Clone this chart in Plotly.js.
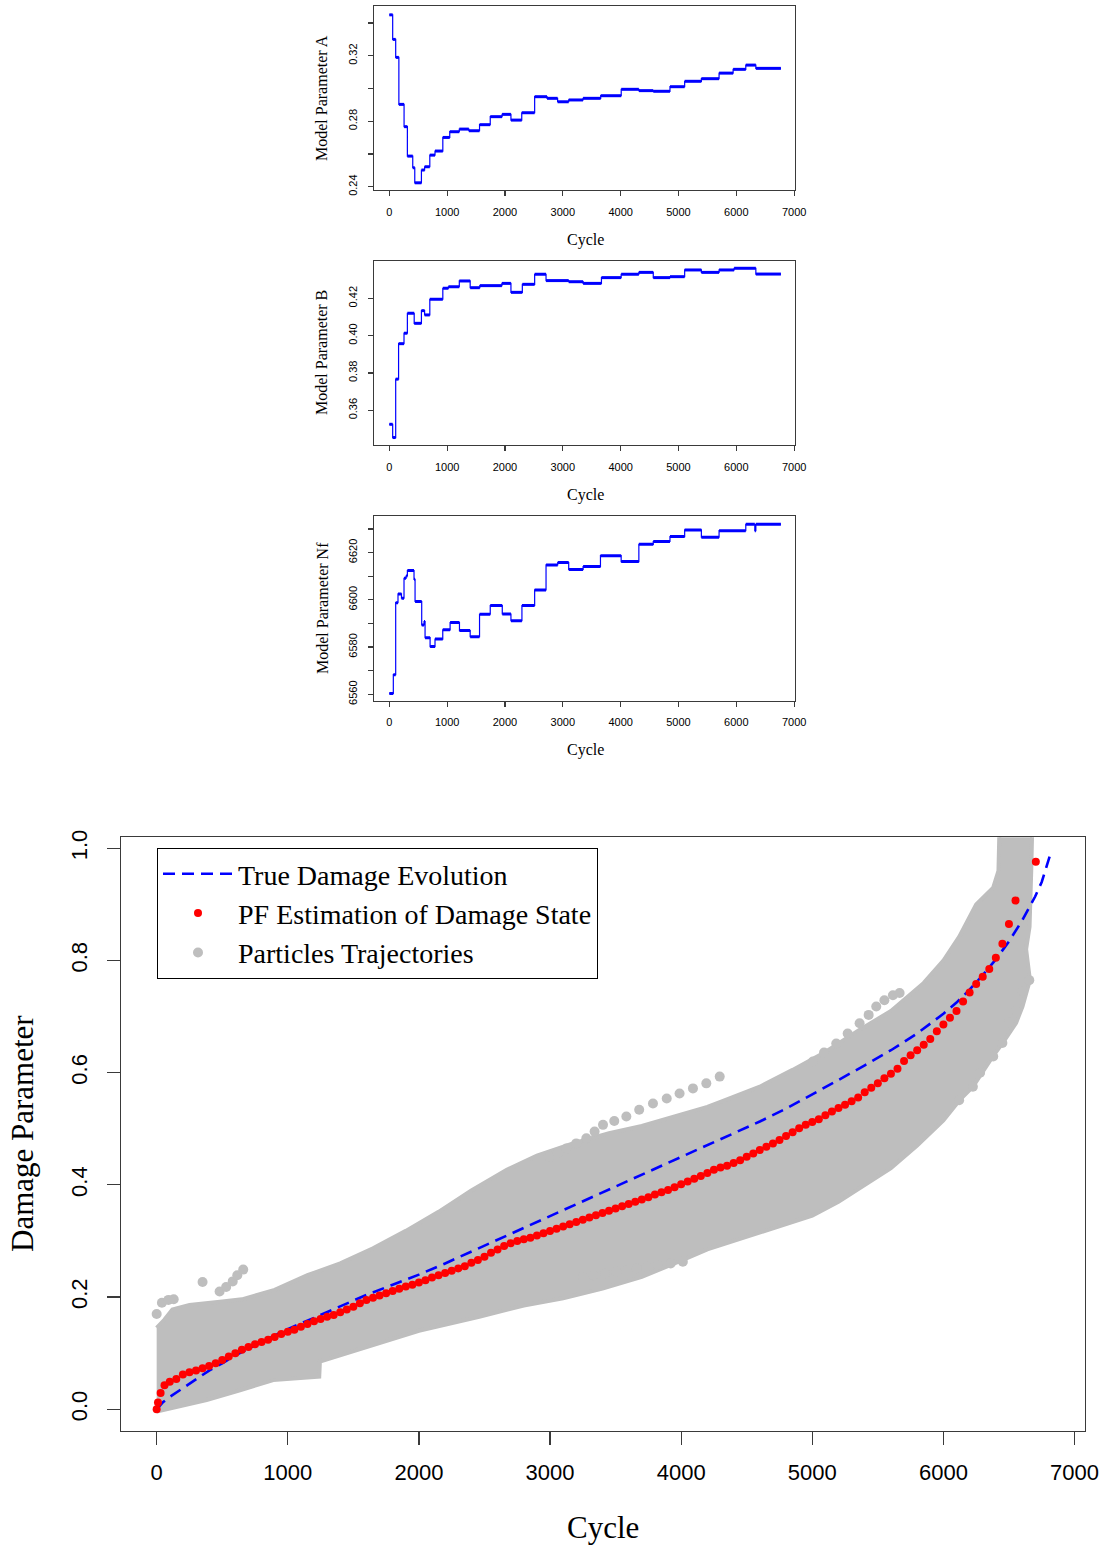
<!DOCTYPE html>
<html>
<head>
<meta charset="utf-8">
<script src="https://cdn.plot.ly/plotly-3.0.1.min.js"></script>
<style>
  html, body { margin: 0; padding: 0; background: #fff; }
  #chart { width: 1107px; height: 1546px; }
</style>
</head>
<body>
<div id="chart"></div>
<script>
// ---------------- DATA ----------------
// Panel A: model parameter A (step updates)
const aCycle = [0, 58, 110, 165, 255, 312, 405, 440, 555, 610, 700, 790, 925, 1045, 1210, 1375, 1560, 1745, 1950, 2103, 2290, 2513, 2727, 2910, 3102, 3350, 3655, 4010, 4315, 4564, 4853, 5107, 5396, 5702, 5945, 6164, 6338];
const aValue = [0.345, 0.330, 0.319, 0.2903, 0.2767, 0.2587, 0.2516, 0.2424, 0.2502, 0.2522, 0.2593, 0.2618, 0.2701, 0.2736, 0.2752, 0.2742, 0.2779, 0.2828, 0.2842, 0.2807, 0.2852, 0.2950, 0.2940, 0.2919, 0.2930, 0.2940, 0.2956, 0.2995, 0.2987, 0.2983, 0.3011, 0.3044, 0.3060, 0.3094, 0.3117, 0.3143, 0.3123];

// Panel B: model parameter B
const bCycle = [0, 58, 110, 160, 254, 312, 430, 555, 610, 700, 925, 1022, 1210, 1398, 1565, 1947, 2103, 2300, 2513, 2710, 3102, 3351, 3668, 4009, 4315, 4564, 4853, 5107, 5396, 5702, 5962, 6338];
const bValue = [0.3525, 0.3454, 0.3767, 0.3957, 0.4013, 0.4120, 0.4066, 0.4134, 0.4111, 0.4195, 0.4254, 0.4262, 0.4293, 0.4257, 0.4268, 0.4280, 0.4232, 0.4275, 0.4329, 0.4295, 0.4289, 0.4280, 0.4311, 0.4329, 0.4339, 0.4311, 0.4316, 0.4352, 0.4339, 0.4352, 0.4361, 0.4330];

// Panel C: model parameter Nf
const nfCycle = [0, 69, 110, 150, 210, 254, 289, 312, 427, 445, 560, 600, 618, 705, 790, 924, 1051, 1213, 1398, 1560, 1745, 1953, 2103, 2293, 2513, 2710, 2912, 3102, 3351, 3651, 4009, 4315, 4564, 4853, 5107, 5396, 5702, 6164, 6320, 6338];
const nfValue = [6560.4, 6568.3, 6598.8, 6602.5, 6600.7, 6609.1, 6610.1, 6612.4, 6608.7, 6599.3, 6589.4, 6590.8, 6584.0, 6580.2, 6583.4, 6587.3, 6590.4, 6587.0, 6584.4, 6593.9, 6597.6, 6594.0, 6591.2, 6597.6, 6604.2, 6614.8, 6615.8, 6612.9, 6614.1, 6618.7, 6616.2, 6623.5, 6624.7, 6626.8, 6629.6, 6626.5, 6629.3, 6632.0, 6629.3, 6632.0];

const lastCycle = 6771;

// Bottom panel: true damage evolution
const trueCycle = [0, 50, 100, 200, 300, 400, 500, 600, 700, 800, 900, 1000, 1200, 1400, 1600, 1800, 2000, 2200, 2400, 2600, 2800, 3000, 3200, 3400, 3600, 3800, 4000, 4200, 4400, 4600, 4800, 5000, 5200, 5400, 5600, 5800, 6000, 6100, 6200, 6300, 6400, 6500, 6600, 6700, 6750, 6810];
const trueDamage = [0.000, 0.013, 0.022, 0.038, 0.054, 0.069, 0.082, 0.096, 0.108, 0.120, 0.132, 0.143, 0.163, 0.183, 0.204, 0.222, 0.240, 0.260, 0.281, 0.303, 0.324, 0.345, 0.366, 0.387, 0.408, 0.428, 0.449, 0.470, 0.491, 0.513, 0.536, 0.561, 0.587, 0.613, 0.640, 0.670, 0.705, 0.725, 0.748, 0.774, 0.802, 0.834, 0.871, 0.914, 0.940, 0.985];

// PF estimation of damage state
const pfCycle = [0, 10, 30, 60, 100, 150, 200, 250, 300, 350, 400, 450, 500, 550, 600, 650, 700, 750, 800, 850, 900, 950, 1000, 1050, 1100, 1150, 1200, 1250, 1300, 1350, 1400, 1450, 1500, 1550, 1600, 1650, 1700, 1750, 1800, 1850, 1900, 1950, 2000, 2050, 2100, 2150, 2200, 2250, 2300, 2350, 2400, 2450, 2500, 2550, 2600, 2650, 2700, 2750, 2800, 2850, 2900, 2950, 3000, 3050, 3100, 3150, 3200, 3250, 3300, 3350, 3400, 3450, 3500, 3550, 3600, 3650, 3700, 3750, 3800, 3850, 3900, 3950, 4000, 4050, 4100, 4150, 4200, 4250, 4300, 4350, 4400, 4450, 4500, 4550, 4600, 4650, 4700, 4750, 4800, 4850, 4900, 4950, 5000, 5050, 5100, 5150, 5200, 5250, 5300, 5350, 5400, 5450, 5500, 5550, 5600, 5650, 5700, 5750, 5800, 5850, 5900, 5950, 6000, 6050, 6100, 6150, 6200, 6250, 6300, 6350, 6400, 6450, 6500, 6550, 6705];
const pfDamage = [0.000, 0.012, 0.029, 0.043, 0.049, 0.054, 0.062, 0.066, 0.069, 0.073, 0.077, 0.082, 0.088, 0.094, 0.100, 0.106, 0.111, 0.116, 0.120, 0.124, 0.129, 0.134, 0.138, 0.142, 0.147, 0.152, 0.157, 0.161, 0.165, 0.168, 0.173, 0.178, 0.183, 0.189, 0.195, 0.199, 0.203, 0.207, 0.211, 0.215, 0.219, 0.222, 0.226, 0.230, 0.235, 0.239, 0.243, 0.247, 0.251, 0.255, 0.261, 0.266, 0.272, 0.279, 0.285, 0.291, 0.296, 0.300, 0.303, 0.306, 0.310, 0.314, 0.318, 0.322, 0.326, 0.330, 0.334, 0.338, 0.342, 0.346, 0.350, 0.354, 0.358, 0.362, 0.366, 0.370, 0.374, 0.378, 0.383, 0.387, 0.391, 0.396, 0.401, 0.406, 0.411, 0.416, 0.421, 0.427, 0.431, 0.434, 0.439, 0.444, 0.450, 0.456, 0.462, 0.468, 0.474, 0.480, 0.487, 0.494, 0.501, 0.507, 0.512, 0.517, 0.524, 0.531, 0.537, 0.543, 0.549, 0.556, 0.565, 0.573, 0.581, 0.590, 0.598, 0.607, 0.621, 0.631, 0.640, 0.650, 0.660, 0.674, 0.686, 0.698, 0.710, 0.727, 0.743, 0.758, 0.771, 0.785, 0.805, 0.830, 0.865, 0.907, 0.976];

// Particle cloud outline (upper edge incl. right cap, lower edge)
const cloudUpperCycle = [0, 60, 120, 250, 500, 650, 900, 1150, 1400, 1650, 1900, 2150, 2400, 2670, 2900, 3175, 3450, 3700, 3950, 4200, 4320, 4600, 4850, 5100, 5350, 5600, 5850, 6000, 6120, 6250, 6380, 6420, 6430, 6680, 6670, 6657, 6631, 6660, 6603, 6555, 6453, 6377, 6225, 6123, 6000];
const cloudUpperDamage = [0.145, 0.16, 0.178, 0.186, 0.192, 0.196, 0.213, 0.239, 0.26, 0.287, 0.318, 0.352, 0.39, 0.427, 0.452, 0.474, 0.492, 0.505, 0.522, 0.539, 0.55, 0.575, 0.605, 0.637, 0.675, 0.71, 0.76, 0.80, 0.842, 0.90, 0.93, 0.96, 1.06, 1.06, 0.96, 0.86, 0.82, 0.765, 0.718, 0.689, 0.653, 0.629, 0.575, 0.551, 0.515];
const cloudLowerCycle = [0, 381, 635, 889, 1240, 1245, 1600, 2000, 2460, 2800, 3100, 3400, 3700, 4000, 4200, 4400, 4600, 4800, 5000, 5200, 5400, 5600, 5800, 6000];
const cloudLowerDamage = [-0.004, 0.0166, 0.034, 0.052, 0.058, 0.085, 0.11, 0.14, 0.165, 0.185, 0.198, 0.215, 0.236, 0.265, 0.285, 0.30, 0.315, 0.33, 0.345, 0.37, 0.40, 0.43, 0.47, 0.515];

// Stray particle trajectories outside the main band
const strayEarlyCycle = [0, 40, 90, 130, 350, 480, 530, 580, 615, 660];
const strayEarlyDamage = [0.17, 0.19, 0.195, 0.196, 0.227, 0.21, 0.218, 0.228, 0.239, 0.249];
const strayUpperCycle = [2998, 3060, 3125, 3200, 3277, 3340, 3404, 3490, 3582, 3680, 3785, 3890, 3988, 4090, 4192, 4294];
const strayUpperDamage = [0.450, 0.457, 0.465, 0.474, 0.483, 0.495, 0.507, 0.514, 0.522, 0.534, 0.545, 0.554, 0.563, 0.572, 0.581, 0.593];
const strayLowerCycle = [3250, 3330, 3420, 3506, 3580, 3660, 3735, 3820, 3920, 4013];
const strayLowerDamage = [0.236, 0.239, 0.242, 0.245, 0.248, 0.251, 0.254, 0.257, 0.260, 0.263];
const strayLateCycle = [5005, 5090, 5183, 5270, 5361, 5430, 5488, 5550, 5615, 5666];
const strayLateDamage = [0.62, 0.636, 0.652, 0.670, 0.688, 0.703, 0.718, 0.729, 0.738, 0.742];
const strayRightCycle = [6120, 6225, 6280, 6380, 6450, 6500, 6555, 6605, 6655];
const strayRightDamage = [0.551, 0.575, 0.60, 0.629, 0.653, 0.69, 0.71, 0.745, 0.765];

const xTicks = [0, 1000, 2000, 3000, 4000, 5000, 6000, 7000];

// ---------------- STYLE / LAYOUT ----------------
const W = 1107, H = 1546;
const SERIF = 'Liberation Serif, Times New Roman, serif';
const SANS = 'Liberation Sans, Arial, sans-serif';
const BLUE = '#0000FF', RED = '#FF0000', GREY = '#BEBEBE';
const px2x = p => p / W;
const px2y = p => 1 - p / H;

function stepTraces(cx, cv, xa, ya) {
  const sx = [], sy = [];
  for (let i = 0; i < cx.length; i++) {
    const x1 = i < cx.length - 1 ? cx[i + 1] : lastCycle;
    sx.push(cx[i], x1, null);
    sy.push(cv[i], cv[i], null);
  }
  return [
    { x: cx.concat([lastCycle]), y: cv.concat([cv[cv.length - 1]]), xaxis: xa, yaxis: ya,
      mode: 'lines', line: { color: BLUE, width: 1.2, shape: 'hv' }, showlegend: false, hoverinfo: 'skip' },
    { x: sx, y: sy, xaxis: xa, yaxis: ya, mode: 'lines',
      line: { color: BLUE, width: 3 }, showlegend: false, connectgaps: false }
  ];
}

const traces = [];
traces.push(...stepTraces(aCycle, aValue, 'x', 'y'));
traces.push(...stepTraces(bCycle, bValue, 'x2', 'y2'));
traces.push(...stepTraces(nfCycle, nfValue, 'x3', 'y3'));

// particle cloud polygon
const polyX = cloudUpperCycle.concat(cloudLowerCycle.slice().reverse());
const polyY = cloudUpperDamage.concat(cloudLowerDamage.slice().reverse());
traces.push({ x: polyX, y: polyY, xaxis: 'x4', yaxis: 'y4', mode: 'lines', fill: 'toself',
  fillcolor: GREY, line: { color: GREY, width: 4 }, showlegend: false, hoverinfo: 'skip' });

const strays = [
  [strayEarlyCycle, strayEarlyDamage, true],
  [strayUpperCycle, strayUpperDamage, false],
  [strayLowerCycle, strayLowerDamage, false],
  [strayLateCycle, strayLateDamage, false],
  [strayRightCycle, strayRightDamage, false]
];
strays.forEach(([sx, sy, leg]) => {
  traces.push({ x: sx, y: sy, xaxis: 'x4', yaxis: 'y4', mode: 'markers',
    marker: { color: GREY, size: 10 },
    name: 'Particles Trajectories', showlegend: leg, legendrank: 3 });
});

traces.push({ x: trueCycle, y: trueDamage, xaxis: 'x4', yaxis: 'y4', mode: 'lines',
  line: { color: BLUE, width: 2.6, dash: '12px,7px' }, name: 'True Damage Evolution', legendrank: 1 });
traces.push({ x: pfCycle, y: pfDamage, xaxis: 'x4', yaxis: 'y4', mode: 'markers',
  marker: { color: RED, size: 8 }, name: 'PF Estimation of Damage State', legendrank: 2 });

function axisBase(extra) {
  return Object.assign({
    showline: true, mirror: true, linecolor: '#3a3a3a', linewidth: 1.3,
    ticks: 'outside', tickcolor: '#3a3a3a', tickwidth: 1.2,
    showgrid: false, zeroline: false, color: '#000'
  }, extra);
}

const topX = [374, 795];
const topXRange = [-265, 7015];
function topXAxis(anchor) {
  return axisBase({ domain: [px2x(topX[0]), px2x(topX[1])], range: topXRange, anchor: anchor,
    tickvals: xTicks, ticktext: xTicks.map(String), ticklen: 5,
    tickfont: { family: SANS, size: 11, color: '#000' }, ticklabelstandoff: 6 });
}
function topYAxis(anchor, dom, range, vals, text) {
  return axisBase({ domain: dom, range: range, anchor: anchor, tickvals: vals, ticktext: text,
    ticklen: 5, tickangle: -90, tickfont: { family: SANS, size: 11, color: '#000' }, ticklabelstandoff: 6 });
}

const layout = {
  width: W, height: H,
  margin: { l: 0, r: 0, t: 0, b: 0 },
  paper_bgcolor: '#fff', plot_bgcolor: '#fff',
  showlegend: true,
  xaxis: topXAxis('y'),
  yaxis: topYAxis('x', [px2y(190), px2y(6)], [0.238, 0.3504],
    [0.24, 0.26, 0.28, 0.30, 0.32, 0.34], ['0.24', '', '0.28', '', '0.32', '']),
  xaxis2: topXAxis('y2'),
  yaxis2: topYAxis('x2', [px2y(445), px2y(261)], [0.3414, 0.44],
    [0.36, 0.38, 0.40, 0.42], ['0.36', '0.38', '0.40', '0.42']),
  xaxis3: topXAxis('y3'),
  yaxis3: topYAxis('x3', [px2y(700.7), px2y(516)], [6557.3, 6635.5],
    [6560, 6570, 6580, 6590, 6600, 6610, 6620, 6630], ['6560', '', '6580', '', '6600', '', '6620', '']),
  xaxis4: axisBase({ domain: [px2x(121), px2x(1085)], range: [-272, 7080], anchor: 'y4',
    tickvals: xTicks, ticktext: xTicks.map(String), ticklen: 13,
    tickfont: { family: SANS, size: 22, color: '#000' }, ticklabelstandoff: 8 }),
  yaxis4: axisBase({ domain: [px2y(1431), px2y(837.3)], range: [-0.0387, 1.0196], anchor: 'x4',
    tickvals: [0, 0.2, 0.4, 0.6, 0.8, 1.0], ticktext: ['0.0', '0.2', '0.4', '0.6', '0.8', '1.0'],
    ticklen: 13, tickangle: -90, tickfont: { family: SANS, size: 22, color: '#000' }, ticklabelstandoff: 11 }),
  legend: {
    x: px2x(157), y: px2y(848), xanchor: 'left', yanchor: 'top',
    bgcolor: '#fff', bordercolor: '#000', borderwidth: 1,
    font: { family: SERIF, size: 28, color: '#000' },
    itemwidth: 70, tracegroupgap: 0
  },
  annotations: [
    { text: 'Cycle', x: px2x(585), y: px2y(240) },
    { text: 'Cycle', x: px2x(585), y: px2y(495) },
    { text: 'Cycle', x: px2x(585), y: px2y(750) },
    { text: 'Model Parameter A', x: px2x(322), y: px2y(98), textangle: -90 },
    { text: 'Model Parameter B', x: px2x(322), y: px2y(353), textangle: -90 },
    { text: 'Model Parameter Nf', x: px2x(322), y: px2y(608), textangle: -90 },
  ].map(a => Object.assign({ xref: 'paper', yref: 'paper', showarrow: false,
      xanchor: 'center', yanchor: 'middle', font: { family: SERIF, size: 16, color: '#000' } }, a))
   .concat([
    { text: 'Cycle', x: px2x(603), y: px2y(1527), xref: 'paper', yref: 'paper', showarrow: false,
      xanchor: 'center', yanchor: 'middle', font: { family: SERIF, size: 31, color: '#000' } },
    { text: 'Damage Parameter', x: px2x(22), y: px2y(1134), xref: 'paper', yref: 'paper', showarrow: false,
      textangle: -90, xanchor: 'center', yanchor: 'middle', font: { family: SERIF, size: 31, color: '#000' } }
  ])
};

Plotly.newPlot('chart', traces, layout, { staticPlot: true, displayModeBar: false });
</script>
</body>
</html>
